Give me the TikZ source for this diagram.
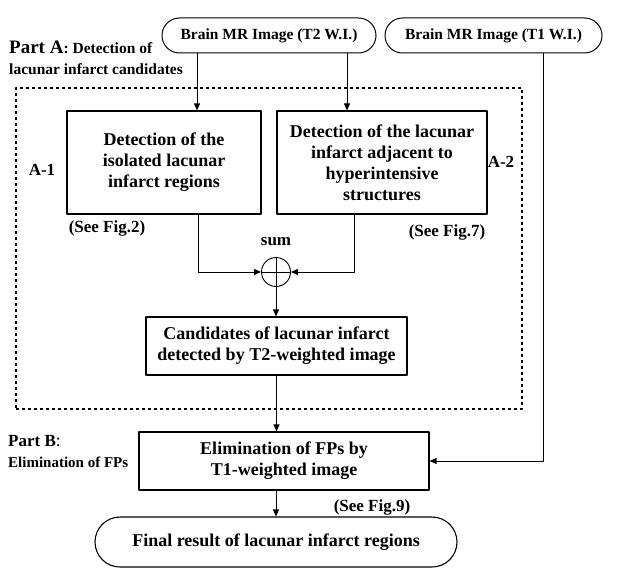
\documentclass[tikz,border=0pt]{standalone}
\usepackage{fontspec}
\setmainfont{Liberation Serif}
\usetikzlibrary{shapes.misc,positioning,arrows.meta}
\tikzset{
	term/.style={draw, rounded rectangle, line width=1pt, inner sep=0pt},
	proc/.style={draw, rectangle, line width=1.2pt, align=center, inner sep=0pt},
	note/.style={inner sep=0pt, align=left}
}
\begin{document}
\begin{tikzpicture}[x=1pt, y=-1pt, font=\fontsize{18}{21}\selectfont\bfseries, line join=round, >={Triangle[length=7pt,width=6pt]}]
				\useasboundingbox (0,0) rectangle (618,578);
				% inputs
				\node[term, minimum width=214, minimum height=35] (T2) at (269,35.5) {\fontsize{15.5}{18}\selectfont Brain MR Image (T2 W.I.)};
				\node[term, minimum width=217, minimum height=35] (T1) at (493.5,35.5) {\fontsize{15.5}{18}\selectfont Brain MR Image (T1 W.I.)};
				% part A
				\node[draw, dashed, line width=1.1pt, minimum width=506, minimum height=321, inner sep=0pt] (partA) at (269,248.5) {};
				\node[proc, minimum width=194, minimum height=103] (A1) at (164,162.5) {Detection of the\\isolated lacunar\\infarct regions};
				\node[proc, minimum width=210, minimum height=103] (A2) at (382,162.5) {Detection of the lacunar\\infarct adjacent to\\hyperintensive\\structures};
				\node[draw, circle, line width=0.9pt, minimum size=29, inner sep=0pt] (sum) at (276,272) {};
				\draw[line width=0.9pt] (sum.north)--(sum.south) (sum.west)--(sum.east);
				\node[proc, minimum width=261, minimum height=58] (C) at (276.5,346) {Candidates of lacunar infarct\\detected by T2-weighted image};
				% part B
				\node[proc, minimum width=290, minimum height=58] (B) at (284,461) {Elimination of FPs by\\T1-weighted image};
				\node[term, line width=1.1pt, minimum width=362, minimum height=50] (F) at (276,542) {Final result of lacunar infarct regions};
				% connectors
				\draw[->, line width=0.9pt] ([xshift=-72pt]T2.south) -- ([xshift=-72pt]T2.south |- A1.north);
				\draw[->, line width=0.9pt] ([xshift=78pt]T2.south) -- ([xshift=78pt]T2.south |- A2.north);
				\draw[->, line width=0.9pt] ([xshift=34pt]A1.south) |- (sum.west);
				\draw[->, line width=0.9pt] ([xshift=-28pt]A2.south) |- (sum.east);
				\draw[->, line width=0.9pt] (sum.south) -- (sum.south |- C.north);
				\draw[->, line width=0.9pt] (C.south) -- (C.south |- B.north);
				\draw[->, line width=0.9pt] ([xshift=49.5pt]T1.south) |- (B.east);
				\draw[->, line width=0.9pt] (F.north |- B.south) -- (F.north);
				% labels
				\node[note, anchor=west] (labA) at (9,58) {{\fontsize{19}{23}\selectfont Part A}\fontsize{15.5}{18}\selectfont: Detection of\\\fontsize{15.5}{18}\selectfont lacunar infarct candidates};
				\node[note, anchor=west] (labB) at (8,452) {{\fontsize{17}{20}\selectfont Part B}\mdseries:\\\fontsize{15}{20}\selectfont Elimination of FPs};
				\foreach \n/\p/\t in {a1/{42,170}/A-1, a2/{501,162}/A-2, s/{276,242}/sum, f2/{107,228}/(See Fig.2), f7/{447,232}/(See Fig.7), f9/{372,507}/(See Fig.9)}
				\node[inner sep=0pt, font=\fontsize{17}{20}\selectfont\bfseries] (\n) at (\p) {\t};
			\end{tikzpicture}
\end{document}
